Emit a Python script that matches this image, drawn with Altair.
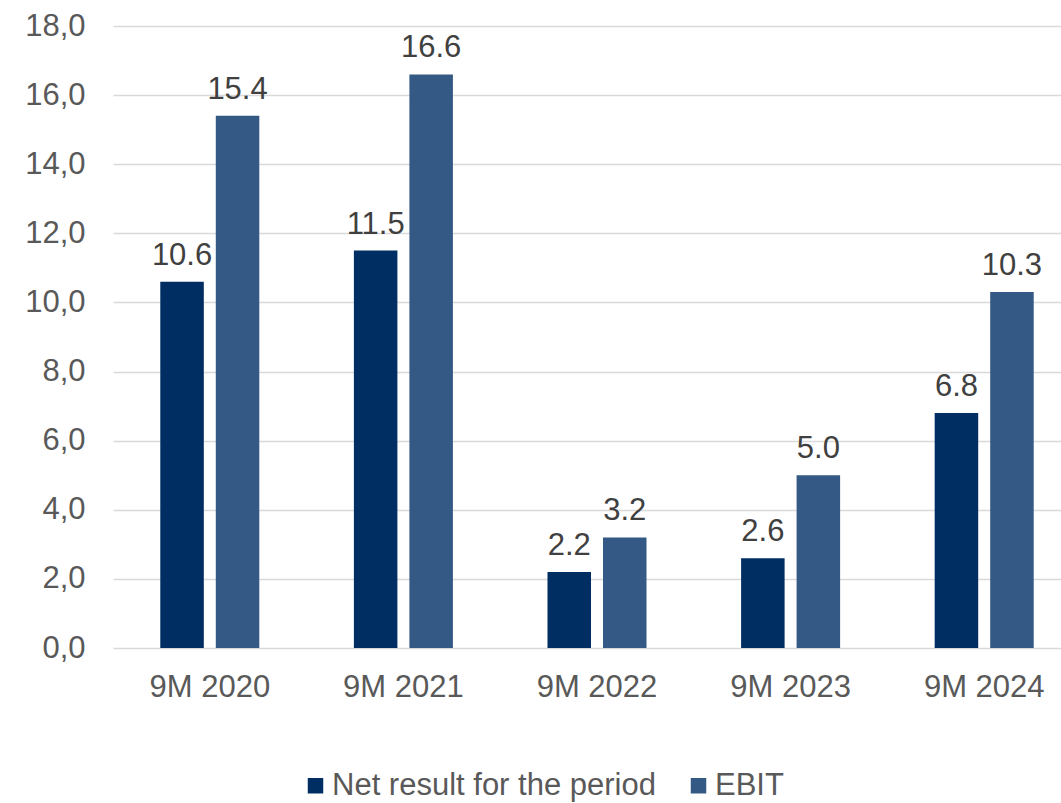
import altair as alt
import pandas as pd

# Reporting periods and the two series (EUR m)
periods = ["9M 2020", "9M 2021", "9M 2022", "9M 2023", "9M 2024"]
net_result = [10.6, 11.5, 2.2, 2.6, 6.8]
ebit = [15.4, 16.6, 3.2, 5.0, 10.3]
series_names = ["Net result for the period", "EBIT"]
series_colors = ["#002D62", "#335984"]

rows = []
for p, n, e in zip(periods, net_result, ebit):
    rows.append({"period": p, "series": series_names[0], "value": n})
    rows.append({"period": p, "series": series_names[1], "value": e})
df = pd.DataFrame(rows)

FONT = "Liberation Sans"
TEXT = "#595959"
FS = 31

x_enc = alt.X(
    "period:N",
    sort=periods,
    scale=alt.Scale(range=[0, 968], paddingInner=0, paddingOuter=0),
    axis=alt.Axis(
        title=None, labelAngle=0, ticks=False, tickSize=0, domain=False,
        labelPadding=24, labelFontSize=FS, labelColor=TEXT, labelFont=FONT,
        grid=False,
    ),
)
xoff_enc = alt.XOffset(
    "series:N", sort=series_names,
    scale=alt.Scale(paddingInner=0.216, paddingOuter=0.852),
)
y_enc = alt.Y(
    "value:Q",
    scale=alt.Scale(domain=[0, 18], nice=False),
    axis=alt.Axis(
        title=None, values=list(range(0, 19, 2)), domain=False, ticks=False,
        tickSize=0, labelPadding=28, labelFontSize=FS, labelColor=TEXT,
        labelFont=FONT,
        labelExpr="replace(format(datum.value, '.1f'), '.', ',')",
        grid=True, gridColor="#D9D9D9", gridWidth=1.5,
    ),
)
color_enc = alt.Color(
    "series:N",
    sort=series_names,
    scale=alt.Scale(domain=series_names, range=series_colors),
    legend=alt.Legend(
        title=None, orient="none", direction="horizontal",
        legendX=187, legendY=744,
        symbolType="square", symbolSize=240, symbolStrokeWidth=0,
        labelFontSize=FS, labelColor=TEXT, labelFont=FONT, labelLimit=0,
        labelOffset=1, columnPadding=27,
    ),
)

bars = alt.Chart(df).mark_bar().encode(
    x=x_enc, xOffset=xoff_enc, y=y_enc, color=color_enc
)

labels = alt.Chart(df).mark_text(
    baseline="alphabetic", dy=-17, fontSize=FS, color="#404040", font=FONT
).encode(
    x=alt.X("period:N", sort=periods),
    xOffset=alt.XOffset("series:N", sort=series_names),
    y=alt.Y("value:Q"),
    text=alt.Text("value:Q", format=".1f"),
)

chart = (
    alt.layer(bars, labels)
    .properties(
        width=948, height=622,
        background="white",
        autosize=alt.AutoSizeParams(type="none"),
        padding={"left": 113, "top": 26, "right": 0, "bottom": 155},
    )
    .configure_view(stroke="transparent", strokeWidth=0)
)

chart.save("out.html", embed_options={"renderer": "svg", "actions": False})
